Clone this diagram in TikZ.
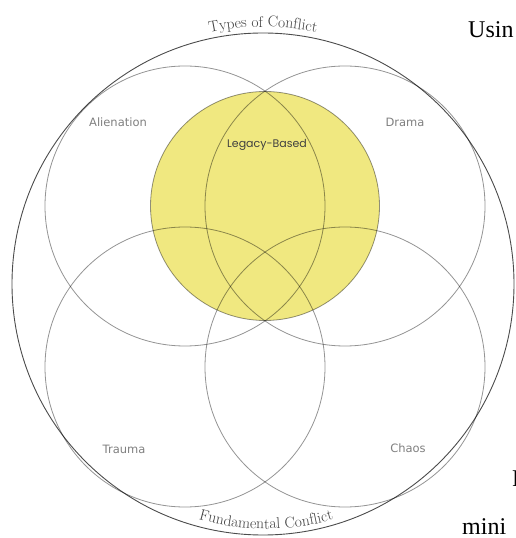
\documentclass[tikz,border=0pt]{standalone}
\usepackage{fontspec}
\newfontfamily\ringfont{DejaVu Sans}
\newfontfamily\geofont{Poppins}
\newfontfamily\pagefont{Liberation Serif}
\usetikzlibrary{decorations.text}
\definecolor{legacyyellow}{RGB}{240,232,128}
\tikzset{
	ring/.style={draw=black,draw opacity=0.42,line width=0.8pt},
	conflict/.style={font=\ringfont\fontsize{11.5}{13}\selectfont,text=black!50},
	pagetext/.style={font=\pagefont\fontsize{24}{28}\selectfont,anchor=base west,inner sep=0pt}
}
\begin{document}
\begin{tikzpicture}[x=1pt,y=1pt]
	\useasboundingbox (0,0) rectangle (516,538);
	\fill[white] (0,0) rectangle (516,538);
	% outer circle and the yellow one
	\draw[black!70,line width=0.9pt] (263,254) circle(251);
	\fill[legacyyellow] (265,332) circle(114.5);
	\foreach \cx/\cy in {185/332,345/332,185/171,345/171}{
		\draw[ring] (\cx,\cy) circle(140);
	}
	\draw[ring] (265,332) circle(114.5);
	% labels
	\node[conflict] (alienation) at (118,416) {Alienation};
	\node[conflict] (drama) at (405,416) {Drama};
	\node[conflict] (trauma) at (124,89) {Trauma};
	\node[conflict] (chaos) at (408,90) {Chaos};
	\node[font=\geofont\fontsize{11}{13}\selectfont,text=black!75] (legacy) at (267,393) {Legacy-Based};
	\path[decorate,decoration={text along path,text align=center,text color=black!75,
		text={|\fontsize{15.5}{17}\selectfont|Types of Conflict}}]
		(263,254) ++(110:257) arc[start angle=110,end angle=70,radius=257];
	\path[decorate,decoration={text along path,text align=center,text color=black!75,
		text={|\fontsize{15.5}{17}\selectfont|Fundamental Conflict}}]
		(266,254) ++(250:245) arc[start angle=250,end angle=290,radius=245];
	% cut text of the page round it
	\node[pagetext] (usin) at (468,500) {Usin};
	\node[pagetext] (pagef) at (512,51) {F};
	\node[pagetext] (mini) at (462,4) {mini};
\end{tikzpicture}
\end{document}
